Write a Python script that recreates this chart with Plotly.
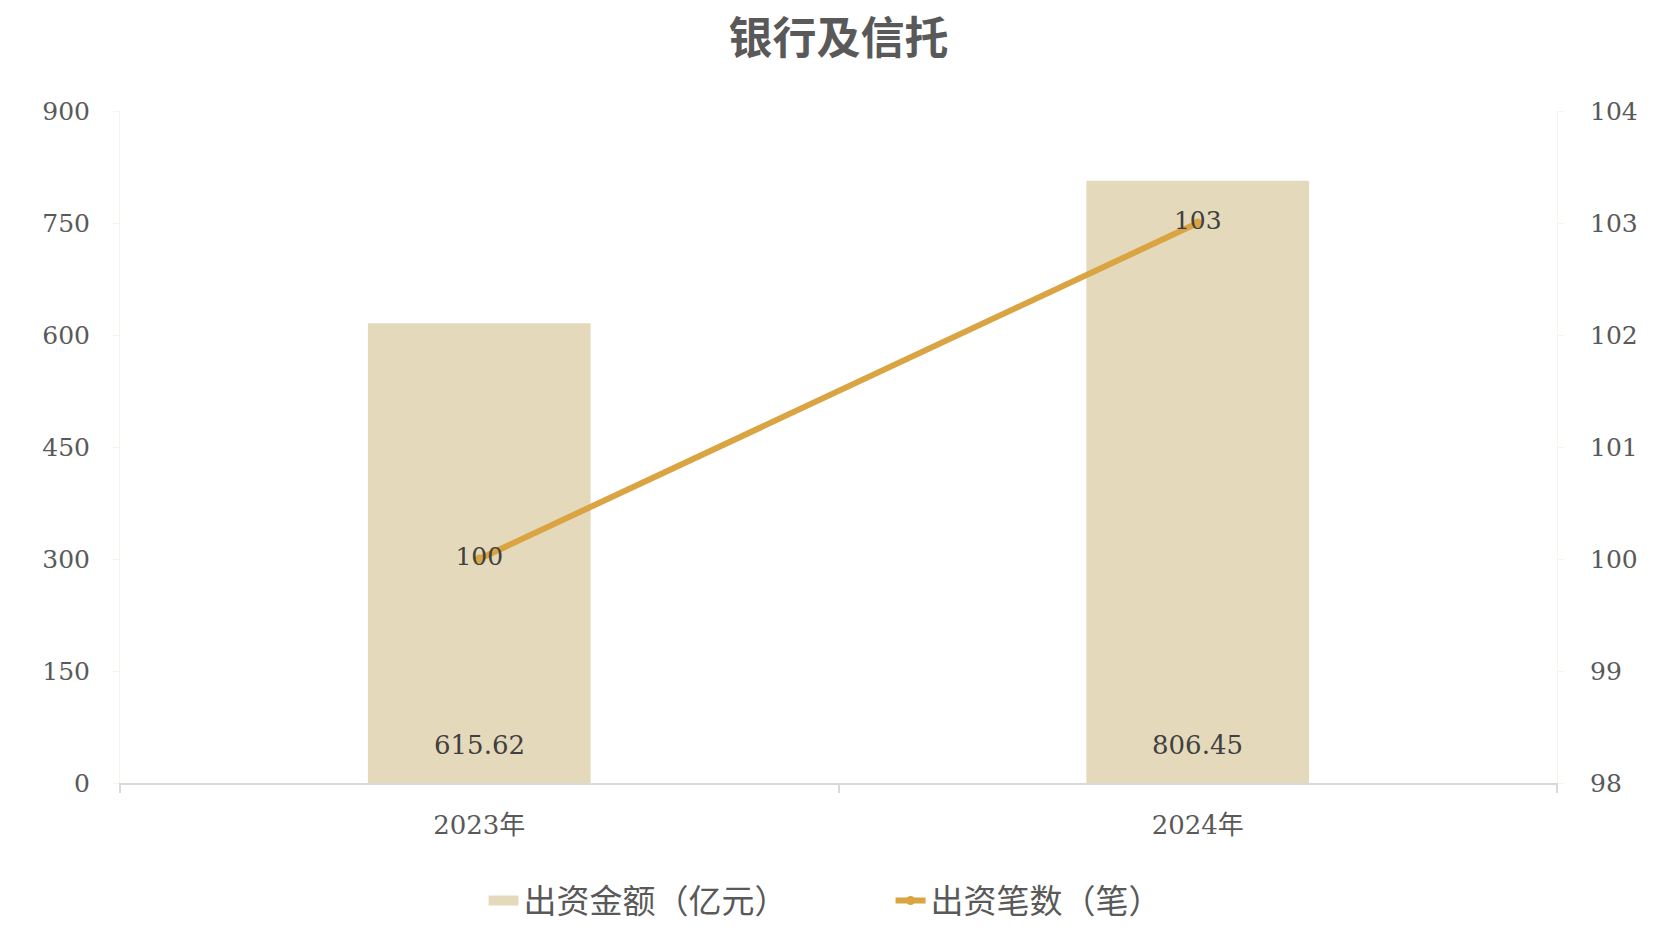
import plotly.graph_objects as go

years = ["2023年", "2024年"]
amount = [615.62, 806.45]
counts = [100, 103]
amount_labels = ["615.62", "806.45"]
count_labels = ["100", "103"]

serif = "DejaVu Serif, Noto Sans CJK SC, serif"
cjk = "Noto Sans CJK SC, sans-serif"
grey = "#595959"
bar_color = "#e5d9bc"
line_color = "#d9a441"

fig = go.Figure()
fig.add_trace(go.Bar(
    x=years, y=amount, name="出资金额（亿元）",
    marker=dict(color=bar_color, line=dict(width=0)),
    width=0.31, showlegend=False,
))
# legend stand-in for the bar series (wide rectangle symbol)
fig.add_trace(go.Scatter(
    x=[None], y=[None], name="出资金额（亿元）", mode="lines",
    line=dict(color=bar_color, width=16), showlegend=True,
))
fig.add_trace(go.Scatter(
    x=years, y=counts, name="出资笔数（笔）", yaxis="y2",
    mode="lines+markers+text",
    line=dict(color=line_color, width=6),
    marker=dict(color=line_color, size=9),
    text=count_labels, textposition="middle center",
    textfont=dict(family=serif, size=25, color="#404040"),
    cliponaxis=False,
))

for xv, lab in zip(years, amount_labels):
    fig.add_annotation(x=xv, y=0, xref="x", yref="y", text=lab, showarrow=False,
                       yshift=38, font=dict(family=serif, size=26, color="#404040"))

tickfont = dict(family=serif, size=25, color=grey)
fig.update_layout(
    width=1677, height=947,
    paper_bgcolor="white", plot_bgcolor="white",
    margin=dict(l=120, r=120, t=111, b=164),
    title=dict(text="<b>银行及信托</b>", x=0.5, xanchor="center", y=0.959, yanchor="middle",
               font=dict(family=cjk, size=44, color=grey)),
    font=dict(family=serif, color=grey, size=24),
    bargap=0.69,
    showlegend=True,
    legend=dict(orientation="h", x=0.253, xanchor="left", y=-0.175, yanchor="middle",
                font=dict(family=cjk, size=33, color=grey),
                traceorder="normal", entrywidth=362, entrywidthmode="pixels"),
    xaxis=dict(showline=True, linecolor="#d9d9d9", linewidth=2,
               ticks="outside", tickson="boundaries", ticklen=8, tickcolor="#d9d9d9", tickwidth=2,
               showgrid=False, tickfont=dict(family=serif, size=26, color=grey),
               ticklabelstandoff=18),
    yaxis=dict(range=[0, 900], dtick=150, showgrid=False, zeroline=False,
               showline=True, linecolor="#f6f5ea", linewidth=1,
               ticks="outside", ticklen=6, tickcolor="#f6f5ea",
               tickfont=tickfont, ticklabelstandoff=18),
    yaxis2=dict(range=[98, 104], dtick=1, overlaying="y", side="right",
                showgrid=False, zeroline=False,
                showline=True, linecolor="#f6f5ea", linewidth=1,
                ticks="outside", ticklen=6, tickcolor="#f6f5ea",
                tickfont=tickfont, ticklabelstandoff=21),
)

fig.write_html("out.html")
